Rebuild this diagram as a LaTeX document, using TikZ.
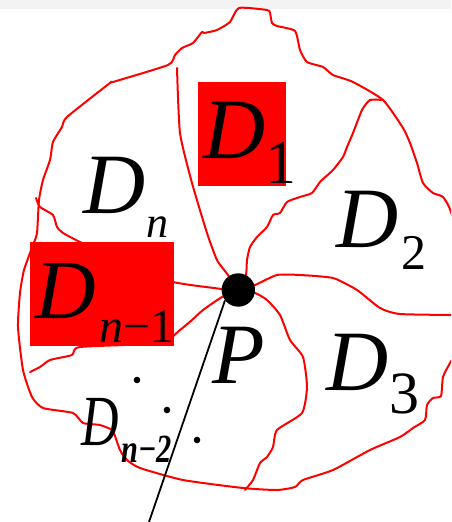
\documentclass[tikz,border=0pt]{standalone}
\usepackage{fontspec}
\usepackage{graphicx}
\setmainfont{Liberation Serif}
\definecolor{bandgray}{HTML}{F3F3F3}
\tikzset{
  border/.style={draw=red, line width=2pt, line join=round, line cap=round},
  lbl/.style={inner sep=0pt, anchor=base west, text=black},
  redbox/.style={fill=red}
}
\newcommand{\fsz}[1]{\fontsize{#1}{#1}\selectfont}
\begin{document}
\begin{tikzpicture}[x=1pt,y=-1pt]
\useasboundingbox (0,0) rectangle (451,522);
\clip (0,0) rectangle (451,522);
\fill[white] (0,0) rectangle (451,522);
\fill[bandgray] (0,0) rectangle (451,8.5);
% outer boundary
\draw[border] plot[smooth, tension=0.35] coordinates {
 (113,430) (100,425) (83,423) (73,413) (43,408) (32,397) (23,370) (18,327) (20,293) (24,270)
 (33,245) (37,233) (39,200) (43,180) (50,160) (53,142) (62,127) (67,117) (110,83) (113,82)
 (168,65) (175,55) (182,48) (193,43) (202,32) (204,33) (217,30) (230,22) (239,8) (267,10)
 (270,13) (272,23) (277,26) (295,31) (300,50) (307,62) (323,67) (333,75) (353,82) (383,100)
 (403,128) (410,143) (417,163) (423,183) (433,193) (443,197) (451,212) (462,260) (462,340)
 (450,363) (443,377) (441,396) (433,398) (427,405) (425,420) (413,428) (400,437) (370,450)
 (333,470) (303,480) (295,487) (277,490) (243,488) (183,480) (140,468) (127,460) (120,450) (113,430)};
% P dot position
\coordinate (pc) at (238.3,290);
% dividers
\draw[border] plot[smooth, tension=0.35] coordinates {
 (177,68) (180,133) (192,183) (207,233) (217,260) (228,275) (238,290)};
\draw[border] plot[smooth, tension=0.35] coordinates {
 (383,100) (370,100) (362,110) (353,133) (347,147) (343,157) (333,170) (320,182) (312,193)
 (300,197) (287,202) (280,213) (273,215) (267,227) (257,237) (250,247) (247,260) (246,275) (240,290)};
\draw[border] plot[smooth, tension=0.35] coordinates {
 (238,290) (255,285) (277,275) (300,275) (333,278) (357,290) (380,308) (400,314) (455,315)};
\draw[border] plot[smooth, tension=0.35] coordinates {
 (238,290) (255,293) (267,300) (280,315) (290,340) (303,357) (307,387) (302,413) (277,430)
 (273,447) (267,457) (260,463) (253,480) (245,490)};
\draw[border] plot[smooth, tension=0.35] coordinates {
 (238,290) (222,297) (203,310) (192,320) (180,330) (160,343) (80,347) (72,355) (50,360) (40,367) (30,372)};
\draw[border] plot[smooth, tension=0.35] coordinates {
 (36,198) (40,207) (53,215) (57,227) (63,233) (80,242) (130,266) (173,282) (222,289) (238,290)};
% red boxes
\fill[redbox] (198,82) rectangle (286,186);
\fill[redbox] (30,242) rectangle (174,346);
% labels
\node[lbl] (d1) at (203,158) {\fsz{86}\itshape D};
\node[lbl] (d1s) at (265,183) {\fsz{62}1};
\node[lbl] (dn) at (83,213) {\fsz{86}\itshape D};
\node[lbl] (dns) at (146,237) {\fsz{44}\itshape n};
\node[lbl] (d2) at (336,247) {\fsz{86}\itshape D};
\node[lbl] (d2s) at (401,269) {\fsz{50}2};
\node[lbl] (d3) at (326,390) {\fsz{86}\itshape D};
\node[lbl] (d3s) at (389,413) {\fsz{60}3};
\node[lbl] (dm1) at (35,318) {\fsz{84}\itshape D};
\node[lbl] (dm1s) at (99,342) {\fsz{48}{\itshape n}−1};
\node[lbl] (pl) at (212,383) {\fsz{86}\itshape P};
\node[lbl] (dm2) at (81,445) {\scalebox{0.72}[1]{\fsz{72}\itshape D}};
\node[lbl] (dm2s) at (121,462) {\scalebox{0.76}[1]{\fsz{40}\bfseries\itshape n−2}};
% ellipsis dots
\fill[black] (137,380) circle (3.3);
\fill[black] (167,410) circle (3.3);
\fill[black] (197,440) circle (3.3);
% point P and ray
\node[circle, fill=black, minimum size=33.4pt, inner sep=0pt] (pdot) at (pc) {};
\coordinate (rayend) at (149,522);
\draw[black, line width=1.8pt] (pdot.218) -- (rayend);
\end{tikzpicture}
\end{document}
